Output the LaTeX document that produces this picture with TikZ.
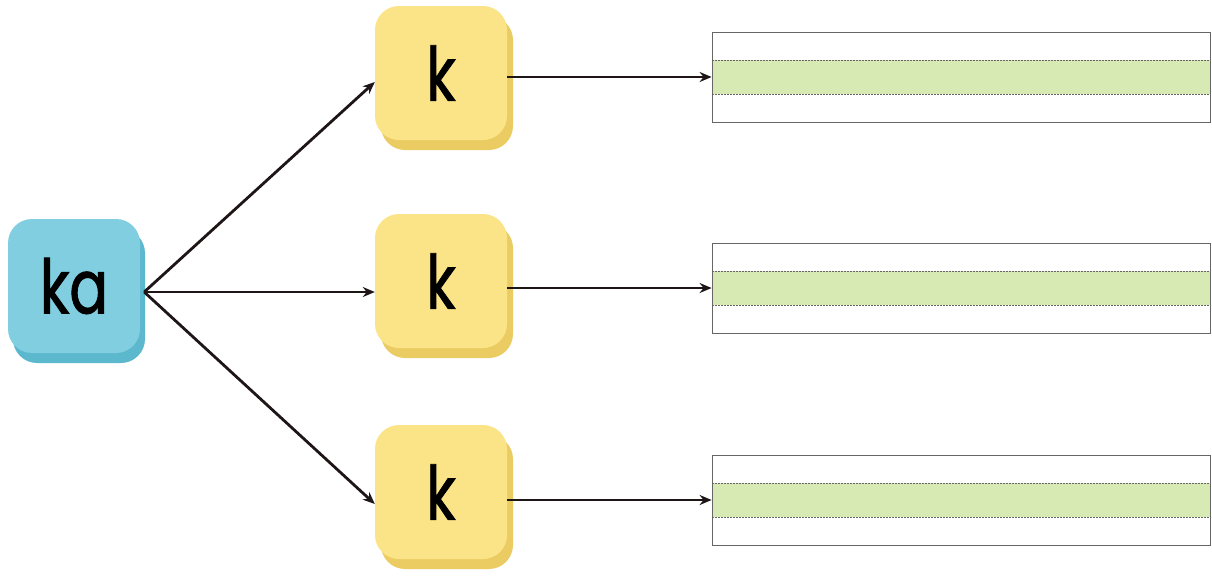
\documentclass[tikz,border=0pt]{standalone}
\usepackage{fontspec}
\newfontfamily\keyfont[FakeStretch=0.76,FakeBold=1.2]{Poppins}
\usetikzlibrary{shadows,arrows.meta,calc}
\definecolor{bluef}{RGB}{128,206,224}
\definecolor{blues}{RGB}{92,184,204}
\definecolor{yelf}{RGB}{251,228,136}
\definecolor{yels}{RGB}{234,204,98}
\definecolor{greenb}{RGB}{215,234,180}
\definecolor{arr}{RGB}{30,22,22}
\tikzset{
  key/.style={rounded corners=24pt, minimum width=132pt, minimum height=134pt,
    inner sep=0pt, font=\keyfont\fontsize{75}{75}\selectfont, text=black},
  bluekey/.style={key, fill=bluef, drop shadow={shadow xshift=5pt, shadow yshift=-10pt, fill=blues, opacity=1}},
  yelkey/.style={key, fill=yelf, drop shadow={shadow xshift=6pt, shadow yshift=-10pt, fill=yels, opacity=1}},
  wbox/.style={draw=black!60, line width=0.8pt, minimum width=498pt, minimum height=90pt, inner sep=0pt,
    path picture={
      \fill[greenb] ($(path picture bounding box.north west)+(0,-28pt)$) rectangle ($(path picture bounding box.north east)+(0,-62pt)$);
      \draw[line width=0.6pt, dash pattern=on 2pt off 1pt] ($(path picture bounding box.north west)+(0,-28pt)$) -- ($(path picture bounding box.north east)+(0,-28pt)$);
      \draw[line width=0.6pt, dash pattern=on 2pt off 1pt] ($(path picture bounding box.north west)+(0,-62pt)$) -- ($(path picture bounding box.north east)+(0,-62pt)$);
    }},
  con/.style={draw=arr, line width=2.8pt, -{Stealth[length=12pt,width=10pt]}}
}
\begin{document}
\begin{tikzpicture}[x=1pt,y=-1pt]
\useasboundingbox (0,0) rectangle (1212,576);
\node[bluekey] (ka) at (74,286) {ka};
\node[yelkey] (k1) at (441,73) {k};
\node[yelkey] (k2) at (441,281) {k};
\node[yelkey] (k3) at (441,492) {k};
\node[wbox] (w1) at (961,77) {};
\node[wbox] (w2) at (961,288) {};
\node[wbox] (w3) at (961,500) {};
\coordinate (kaout) at ($(ka.east)+(4,6)$);
\draw[con] (kaout) -- ($(k1.west)+(0,9)$);
\draw[con] (kaout) -- ($(k2.west)+(0,11)$);
\draw[con] (kaout) -- ($(k3.west)+(0,12)$);
\draw[con] (w1.west -| k1.east) -- (w1.west);
\draw[con] (w2.west -| k2.east) -- (w2.west);
\draw[con] (w3.west -| k3.east) -- (w3.west);
\end{tikzpicture}
\end{document}
